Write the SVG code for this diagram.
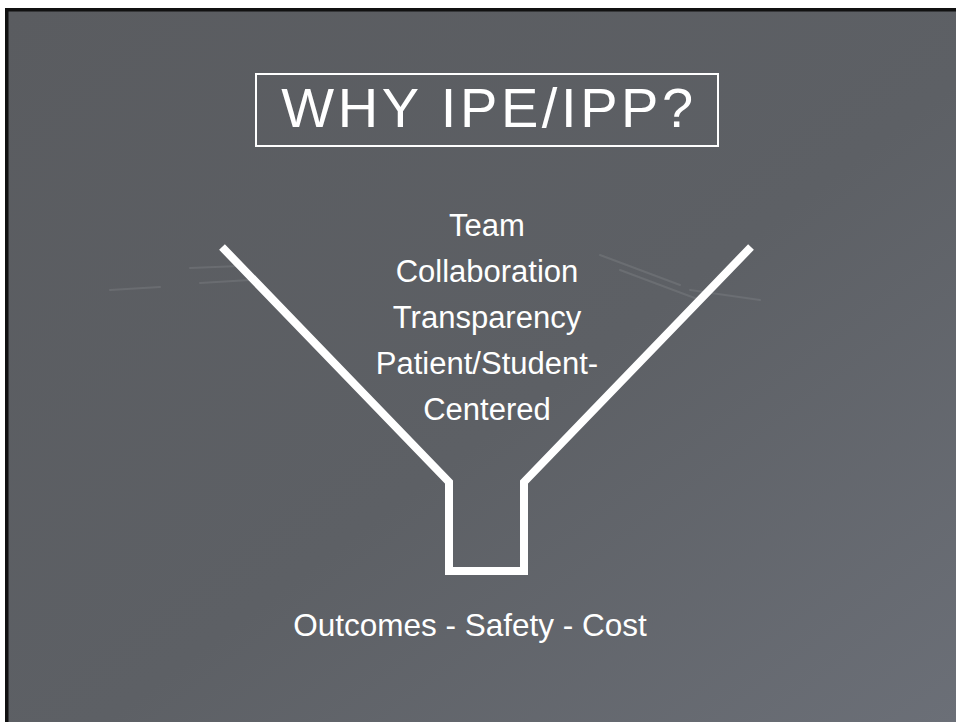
<svg xmlns="http://www.w3.org/2000/svg" width="956" height="722" viewBox="0 0 956 722">
  <style>
    .txt { font-family: "Liberation Sans", Arial, sans-serif; fill: #ffffff; text-anchor: middle; }
    .funnel { fill: none; stroke: #ffffff; stroke-width: 8; stroke-linejoin: miter; stroke-linecap: butt; }
    .streak { fill: none; stroke: #8a8d93; stroke-linecap: round; opacity: 0.3; }
  </style>
  <defs>
    <linearGradient id="board" x1="0" y1="0" x2="1" y2="1">
      <stop offset="0" stop-color="#5a5c60"/>
      <stop offset="0.55" stop-color="#5d6065"/>
      <stop offset="1" stop-color="#6b6f77"/>
    </linearGradient>
  </defs>
  <rect x="0" y="0" width="956" height="722" fill="#ffffff"/>
  <rect x="7" y="10" width="949" height="712" fill="url(#board)"/>
  <rect x="5" y="8" width="951" height="3.5" fill="#111111"/>
  <rect x="5" y="8" width="3.5" height="714" fill="#111111"/>
  <g id="chalk">
    <path class="streak" d="M190 268 L240 266 M200 283 L250 280 M110 290 L160 287" stroke-width="2"/>
    <path class="streak" d="M600 255 L680 285 M620 270 L700 300 M690 290 L760 300" stroke-width="2"/>
  </g>
  <g id="title">
    <rect x="256" y="74" width="462" height="72" fill="none" stroke="#ffffff" stroke-width="2"/>
    <text class="txt" x="489" y="127" font-size="56" letter-spacing="3.6">WHY IPE/IPP?</text>
  </g>
  <g id="connectors">
    <path id="funnel" class="funnel" d="M222 247 L449 482 L449 571 L524 571 L524 482 L751 247"/>
  </g>
  <g id="inputs">
    <text class="txt" x="487" y="236" font-size="31">Team</text>
    <text class="txt" x="487" y="282" font-size="31">Collaboration</text>
    <text class="txt" x="487" y="328" font-size="31">Transparency</text>
    <text class="txt" x="487" y="374" font-size="31">Patient/Student-</text>
    <text class="txt" x="487" y="420" font-size="31">Centered</text>
  </g>
  <g id="outputs">
    <text class="txt" x="470" y="636" font-size="31.5">Outcomes - Safety - Cost</text>
  </g>
</svg>
